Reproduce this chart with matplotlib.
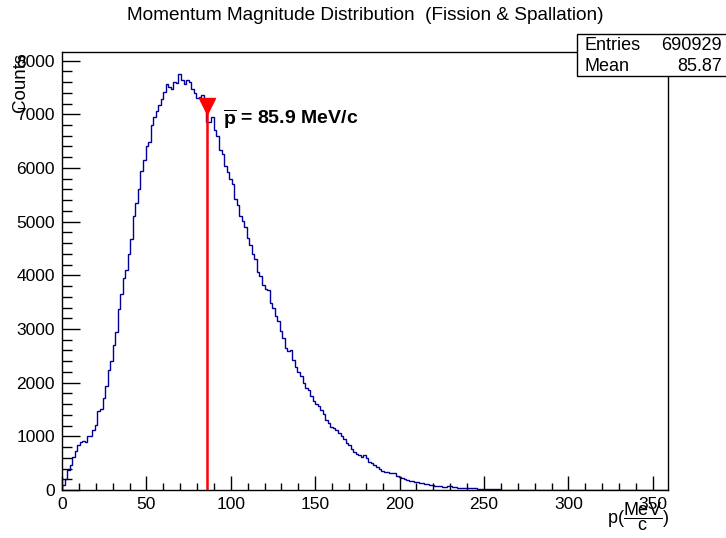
import numpy as np
import matplotlib
matplotlib.use("Agg")
import matplotlib.pyplot as plt
from matplotlib.patches import Rectangle
from matplotlib.ticker import MultipleLocator

plt.rcParams['font.family'] = ['Liberation Sans', 'DejaVu Sans']
plt.rcParams['mathtext.fontset'] = 'custom'
plt.rcParams['mathtext.rm'] = 'Liberation Sans'
plt.rcParams['mathtext.it'] = 'Liberation Sans:italic'
plt.rcParams['mathtext.bf'] = 'Liberation Sans:bold'

# ---- data ----
bin_width = 1.5
counts = [
    100, 200, 370, 470, 620, 720, 840, 885, 916, 885,
    997, 1009, 1121, 1202, 1464, 1514, 1713, 1931, 2243, 2400,
    2700, 2950, 3364, 3650, 3950, 4093, 4400, 4673, 5100, 5350,
    5600, 5950, 6155, 6405, 6480, 6800, 6947, 7053, 7165, 7280,
    7415, 7560, 7508, 7470, 7600, 7590, 7750, 7640, 7560, 7640,
    7610, 7480, 7390, 7310, 7330, 7360, 7150, 6860, 6850, 6940,
    6700, 6590, 6330, 6262, 6044, 5919, 5794, 5700, 5420, 5308,
    5109, 5015, 4892, 4700, 4560, 4400, 4299, 4070, 3990, 3820,
    3751, 3720, 3490, 3396, 3240, 3146, 2959, 2835, 2648, 2585,
    2617, 2430, 2300, 2200, 2118, 1994, 1901, 1860, 1744, 1650,
    1600, 1570, 1495, 1421, 1300, 1240, 1183, 1153, 1121, 1060,
    1000, 947, 872, 830, 760, 716, 673, 654, 623, 654,
    592, 530, 500, 467, 424, 386, 361, 343, 330, 324,
    315, 312, 260, 235, 218, 206, 190, 175, 165, 155,
    140, 132, 125, 118, 112, 100, 93, 80, 72, 66,
    62, 60, 68, 75, 58, 50, 45, 40, 37, 35,
    33, 32, 31, 29, 27, 26, 25, 23, 22, 21,
    19, 17, 12, 5, 5, 4, 4, 3, 3, 3,
    2, 2, 2, 2, 1, 1, 1, 1, 1, 0,
    0, 0, 0, 0, 0, 0, 0, 0, 0, 0,
    0, 0, 0, 0, 0, 0, 0, 0, 0, 0,
    0, 0, 0, 0, 0, 0, 0, 0, 0, 0,
    0, 0, 0, 0, 0, 0, 0, 0, 0, 0,
    0, 0, 0, 0, 0, 0, 0, 0, 0, 0,
]
edges = np.arange(len(counts) + 1) * bin_width
x_max = 359.0
y_max = 8160.0
mean_p = 85.87
marker_y = 7156.0
entries_text = "690929"
mean_text = "85.87"
title = "Momentum Magnitude Distribution  (Fission & Spallation)"

W, H = 726, 538
fig = plt.figure(figsize=(W / 100, H / 100), dpi=100)
ax = fig.add_axes([62 / W, 1 - 490 / H, (668 - 62) / W, (490 - 52) / H])

ax.stairs(counts, edges, color='#000099', linewidth=1.0, baseline=0)
ax.plot([mean_p, mean_p], [0, marker_y], color='#ff0000', linewidth=1.8, zorder=4)
ax.plot([mean_p], [marker_y], marker='v', color='#ff0000', markersize=11, zorder=5)
ax.text(95.4, 6914, r'$\mathbf{\overline{p}}$ = 85.9 MeV/c', fontsize=14,
        fontweight='bold', ha='left', va='center')

ax.set_xlim(0, x_max)
ax.set_ylim(0, y_max)
ax.xaxis.set_major_locator(MultipleLocator(50))
ax.xaxis.set_minor_locator(MultipleLocator(10))
ax.yaxis.set_major_locator(MultipleLocator(1000))
ax.yaxis.set_minor_locator(MultipleLocator(200))
ax.tick_params(axis='x', which='major', direction='in', length=10, width=1, labelsize=12.5, pad=5)
ax.tick_params(axis='x', which='minor', direction='in', length=5, width=1)
ax.tick_params(axis='y', which='major', direction='in', length=13, width=1, labelsize=12.5, pad=5)
ax.tick_params(axis='y', which='minor', direction='in', length=7, width=1)
for s in ax.spines.values():
    s.set_linewidth(1.0)

fig.text(365 / W, 1 - 16 / H, title, ha='center', va='center', fontsize=13.7)
fig.text(20 / W, 1 - 53 / H, 'Counts', rotation=90, ha='center', va='top', fontsize=13.5)
fig.text(669 / W, 1 - 517 / H, r'p($\dfrac{\mathrm{MeV}}{\mathrm{c}}$)', ha='right',
         va='center', fontsize=13)

# stats box
fig.patches.append(Rectangle((577 / W, 1 - 76 / H), (W - 577) / W + 0.01, (76 - 34) / H,
                             transform=fig.transFigure, facecolor='white',
                             edgecolor='black', linewidth=1.0, zorder=10))
fig.text(585 / W, 1 - 45 / H, 'Entries', ha='left', va='center', fontsize=13, zorder=11)
fig.text(722 / W, 1 - 45 / H, entries_text, ha='right', va='center', fontsize=13, zorder=11)
fig.text(585 / W, 1 - 66 / H, 'Mean', ha='left', va='center', fontsize=13, zorder=11)
fig.text(722 / W, 1 - 66 / H, mean_text, ha='right', va='center', fontsize=13, zorder=11)

fig.savefig('out.png', dpi=100)
